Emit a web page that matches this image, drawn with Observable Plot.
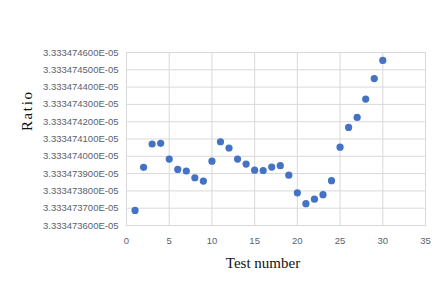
<!DOCTYPE html>
<html>
<head>
<meta charset="utf-8">
<script src="https://cdn.jsdelivr.net/npm/d3@7"></script>
<script src="https://cdn.jsdelivr.net/npm/@observablehq/plot@0.6"></script>
<style>
  html, body { margin: 0; padding: 0; background: #fff; }
</style>
</head>
<body>
<div id="chart"></div>
<script>
const testNumbers = d3.range(1, 31);
const ratios = [
  3.333473687e-5, 3.333473936e-5, 3.333474071e-5, 3.333474075e-5, 3.333473984e-5,
  3.333473924e-5, 3.333473915e-5, 3.333473876e-5, 3.333473857e-5, 3.333473972e-5,
  3.333474084e-5, 3.333474048e-5, 3.333473984e-5, 3.333473955e-5, 3.333473920e-5,
  3.333473918e-5, 3.333473938e-5, 3.333473946e-5, 3.333473891e-5, 3.333473789e-5,
  3.333473726e-5, 3.333473752e-5, 3.333473778e-5, 3.333473859e-5, 3.333474053e-5,
  3.333474167e-5, 3.333474225e-5, 3.333474331e-5, 3.333474449e-5, 3.333474554e-5
];
const xTicks = [0, 5, 10, 15, 20, 25, 30, 35];
const yTicks = [
  3.3334736e-5, 3.3334737e-5, 3.3334738e-5, 3.3334739e-5, 3.3334740e-5, 3.3334741e-5,
  3.3334742e-5, 3.3334743e-5, 3.3334744e-5, 3.3334745e-5, 3.3334746e-5
];
const xLabel = "Test number";
const yLabel = "Ratio";

const data = testNumbers.map((t, i) => ({test: t, ratio: ratios[i]}));
const fmtY = d => {
  const [m, e] = d.toExponential(9).split("e");
  const n = Math.abs(+e);
  return m + "E" + (+e < 0 ? "-" : "+") + String(n).padStart(2, "0");
};

const tickColor = "#595f6e";
const gridColor = "#d9d9d9";

const chart = Plot.plot({
  width: 432,
  height: 281,
  marginLeft: 126,
  marginRight: 7,
  marginTop: 52,
  marginBottom: 56,
  style: {fontFamily: "'Liberation Sans', sans-serif", fontSize: "9.5px", background: "#fff"},
  x: {domain: [0, 35], ticks: xTicks},
  y: {domain: [yTicks[0], yTicks[yTicks.length - 1]], ticks: yTicks},
  marks: [
    Plot.gridX(xTicks, {stroke: gridColor, strokeOpacity: 1, strokeWidth: 1}),
    Plot.gridY(yTicks, {stroke: gridColor, strokeOpacity: 1, strokeWidth: 1}),
    Plot.frame({stroke: gridColor}),
    Plot.axisX(xTicks, {tickSize: 0, tickPadding: 12, fill: tickColor, label: null, fontSize: 9.5}),
    Plot.axisY(yTicks, {tickSize: 0, tickPadding: 8, fill: tickColor, label: null, tickFormat: fmtY, fontSize: 9.5}),
    Plot.dot(data, {x: "test", y: "ratio", r: 3.6, fill: "#4472c4", stroke: "none"}),
    Plot.text([xLabel], {frameAnchor: "bottom", dy: 42, dx: -13, fontFamily: "'Liberation Serif', serif", fontSize: 15, fill: "#111", className: "xlab"}),
    Plot.text([yLabel], {frameAnchor: "left", dx: -99, dy: -8, rotate: -90, fontFamily: "'Liberation Serif', serif", fontSize: 15, fill: "#111", className: "ylab"})
  ]
});
d3.select(chart).selectAll(".ylab text").attr("letter-spacing", "1.6px");
document.getElementById("chart").appendChild(chart);
</script>
</body>
</html>
